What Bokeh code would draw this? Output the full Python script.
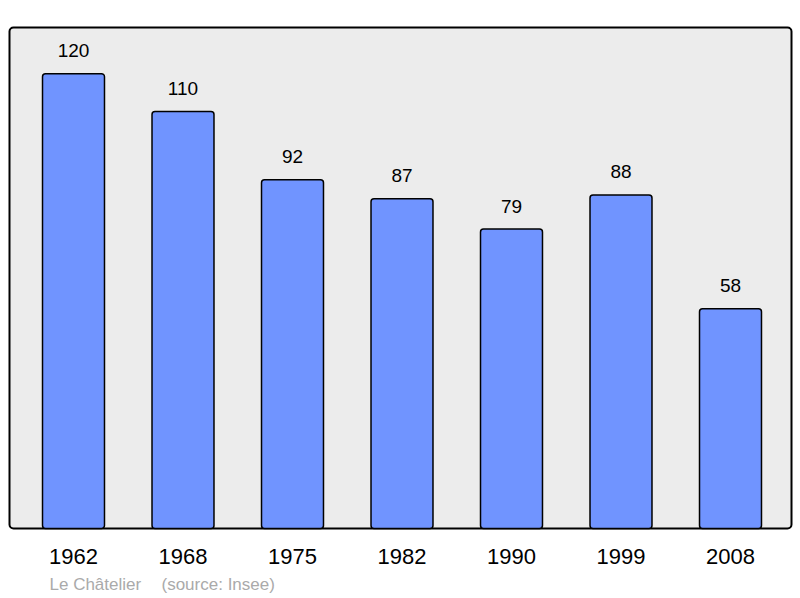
from bokeh.plotting import figure
from bokeh.models import Range1d, ColumnDataSource, LabelSet, Label, BoxAnnotation
from bokeh.core.properties import value
from bokeh.embed import file_html
from bokeh.resources import INLINE

years = ["1962", "1968", "1975", "1982", "1990", "1999", "2008"]
population = [120, 110, 92, 87, 79, 88, 58]
place = "Le Châtelier"
source_note = "(source: Insee)"

FONT = "'Liberation Sans'"
W, H = 800, 598
cat_px = 109.5          # pixels per category
first_center_px = 73.0  # pixel x of first category centre
ppy = 3.79              # pixels per inhabitant
zero_px = 528.0         # pixel y of value 0

x_start = -first_center_px / cat_px
x_end = x_start + W / cat_px
y_end = zero_px / ppy
y_start = -(H - zero_px) / ppy


def px_x(px):
    return x_start + px / cat_px


def px_y(py):
    return (zero_px - py) / ppy


xs = list(range(len(years)))
src = ColumnDataSource(dict(
    x=xs, years=years, pop=population,
    lab=[str(v) for v in population],
    lab_y=[v + 16.5 / ppy for v in population],
    year_y=[px_y(563)] * len(years),
))

p = figure(width=W, height=H, output_backend="svg", toolbar_location=None,
           x_range=Range1d(x_start, x_end), y_range=Range1d(y_start, y_end),
           x_axis_location=None, y_axis_location=None,
           min_border_left=0, min_border_right=0, min_border_top=0, min_border_bottom=0)
p.grid.visible = False
p.background_fill_color = "white"
p.border_fill_color = "white"
p.outline_line_color = None

p.add_layout(BoxAnnotation(left=px_x(9), right=px_x(791), top=px_y(27), bottom=px_y(528),
                           fill_color="#ececec", fill_alpha=1, line_color="black",
                           line_width=2, line_alpha=1, border_radius=4, level="underlay"))

p.vbar(x="x", top="pop", bottom=0, width=0.566, source=src,
       fill_color="#7094ff", line_color="black", line_width=1.5, border_radius=3)

p.add_layout(LabelSet(x="x", y="lab_y", text="lab", source=src, text_align="center",
                      text_baseline="alphabetic", text_font=value(FONT),
                      text_font_size=value("19px"), text_color="black"))
p.add_layout(LabelSet(x="x", y="year_y", text="years", source=src, text_align="center",
                      text_baseline="alphabetic", text_font=value(FONT),
                      text_font_size=value("22px"), text_color="black"))

foot_y = px_y(584)
p.add_layout(Label(x=px_x(49), y=foot_y, text=place,
                   text_baseline="alphabetic", text_font=FONT,
                   text_font_size="17px", text_color="#aaaaaa"))
p.add_layout(Label(x=px_x(161), y=foot_y, text=source_note,
                   text_baseline="alphabetic", text_font=FONT,
                   text_font_size="17px", text_color="#aaaaaa"))

open("out.html", "w").write(file_html(p, INLINE))
